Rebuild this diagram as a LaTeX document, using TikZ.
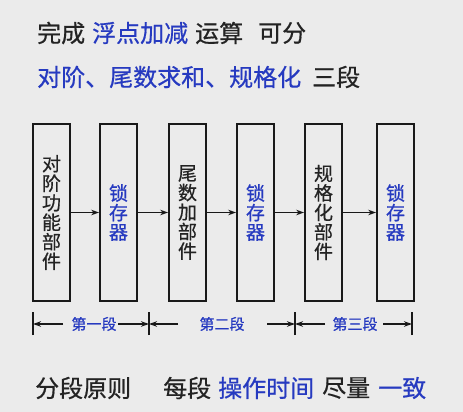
\documentclass[tikz,border=0pt]{standalone}
\usepackage{fontspec}
\newfontfamily\cjk{Noto Sans CJK SC}[FakeBold=0.6]
\usetikzlibrary{arrows.meta}
\definecolor{bgc}{RGB}{235,235,235}
\definecolor{blueT}{RGB}{38,58,192}
\definecolor{darkT}{RGB}{35,35,35}
\tikzset{
  title/.style={anchor=west,inner sep=0pt,font=\cjk\fontsize{24}{26}\selectfont,text=darkT},
  titleb/.style={title,text=blueT},
  stagebox/.style={draw=black!90,line width=1.8pt,minimum width=37pt,minimum height=177pt,inner sep=0pt,align=center,
    font=\cjk\fontsize{19}{19.5}\selectfont,text=darkT},
  latch/.style={stagebox,text=blueT},
  flow/.style={-{Stealth[length=8pt,width=5.5pt]},line width=1.2pt,draw=black!90},
  tick/.style={line width=1.6pt,draw=black!90},
  seglab/.style={inner sep=0pt,font=\cjk\fontsize{15}{16}\selectfont,text=blueT},
}
\begin{document}
\begin{tikzpicture}[x=1pt,y=-1pt]
\useasboundingbox[fill=bgc] (0,0) rectangle (463,412);
% title lines
\node[title]  (t1a) at (37,33) {完成};
\node[titleb] (t1b) at (92,33) {浮点加减};
\node[title]  (t1c) at (195,33) {运算};
\node[title]  (t1d) at (258,33) {可分};
\node[titleb] (t2a) at (37,77) {对阶、尾数求和、规格化};
\node[title]  (t2b) at (312,77) {三段};
% boxes
\node[stagebox] (b1) at (51.5,212.5) {对\\阶\\功\\能\\部\\件};
\node[latch]    (b2) at (118.5,212.5) {锁\\存\\器};
\node[stagebox] (b3) at (187.5,212.5) {尾\\数\\加\\部\\件};
\node[latch]    (b4) at (255.5,212.5) {锁\\存\\器};
\node[stagebox] (b5) at (323.5,212.5) {规\\格\\化\\部\\件};
\node[latch]    (b6) at (395.5,212.5) {锁\\存\\器};
\draw[flow] (b1.east) -- (b2.west);
\draw[flow] (b2.east) -- (b3.west);
\draw[flow] (b3.east) -- (b4.west);
\draw[flow] (b4.east) -- (b5.west);
\draw[flow] (b5.east) -- (b6.west);
% dimension line
\coordinate (k0) at (33,324);
\coordinate (k1) at (149,324);
\coordinate (k2) at (295,324);
\coordinate (k3) at (412,324);
\foreach \k in {k0,k1,k2,k3} {\draw[tick] ([yshift=-11pt]\k) -- ([yshift=12pt]\k);}
\node[seglab] (s1) at (94,324) {第一段};
\node[seglab] (s2) at (222,324) {第二段};
\node[seglab] (s3) at (355,324) {第三段};
\coordinate (a1l) at (63,324);
\coordinate (a1r) at (118,324);
\coordinate (a2l) at (178,324);
\coordinate (a2r) at (267,324);
\coordinate (a3l) at (325,324);
\coordinate (a3r) at (383,324);
\draw[flow] (a1l) -- (k0);
\draw[flow] (a1r) -- (k1);
\draw[flow] (a2l) -- (k1);
\draw[flow] (a2r) -- (k2);
\draw[flow] (a3l) -- (k2);
\draw[flow] (a3r) -- (k3);
% bottom line
\node[title]  (u1) at (35,388) {分段原则};
\node[title]  (u2) at (163,388) {每段};
\node[titleb] (u3) at (218,388) {操作时间};
\node[title]  (u4) at (322,388) {尽量};
\node[titleb] (u5) at (378,388) {一致};
\end{tikzpicture}
\end{document}
